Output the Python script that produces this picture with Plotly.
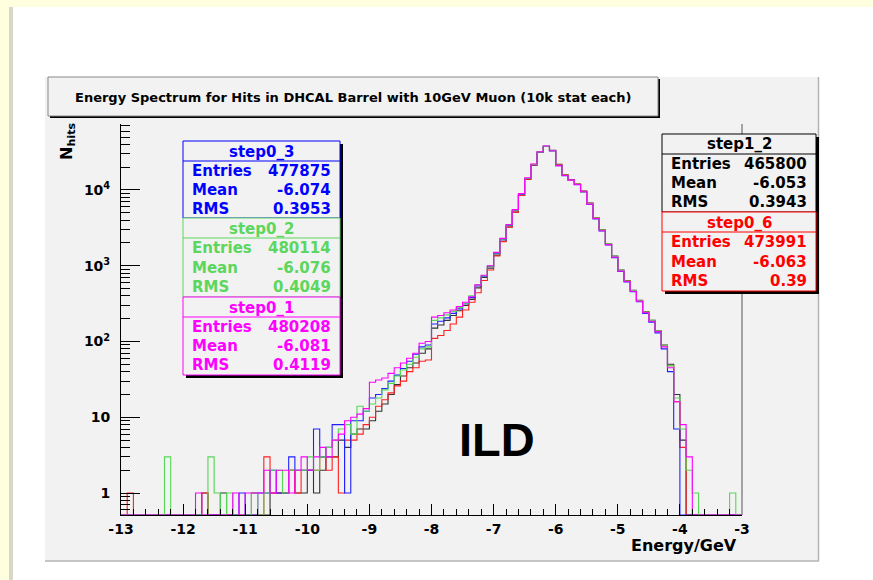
import plotly.graph_objects as go

# ---------------- data ----------------
BIN_MIN, BIN_MAX, N_BINS = -13.0, -3.0, 100

step0_1 = [0,0,0,0,0,0,0,0,0,0,
           0,0,1,0,0,0,0,0,1,0,
           1,1,1,2,1,2,2,1,2,3,
           2,3,4,3,5,6,9,10,11,13,
           29,31,33,38,45,52,60,70,95,100,
           210,220,240,260,290,330,390,560,750,1000,
           1500,2300,3500,5500,9000,14500,22000,32000,38000,33000,
           21000,15500,13500,11800,9500,6500,4200,2900,1900,1300,
           850,620,460,340,240,185,135,85,45,16,
           8,3,0,0,0,0,0,0,0,0]
step0_2 = [0,0,0,0,0,0,0,3,0,0,
           0,0,0,0,3,1,0,1,0,0,
           0,1,0,1,2,2,1,2,2,2,
           3,2,3,4,5,7,8,6,14,12,
           15,18,23,28,35,42,50,62,80,85,
           190,205,225,250,280,320,400,560,740,990,
           1480,2250,3450,5400,8900,14300,21800,31800,37800,32900,
           21200,15600,13400,11900,9400,6600,4250,2950,1950,1330,
           870,630,470,345,245,190,138,88,48,18,
           7,2,1,0,0,0,0,0,1,0]
step0_3 = [0,0,0,0,0,0,0,0,0,0,
           0,0,0,0,0,0,0,0,0,1,
           0,0,1,1,2,1,1,3,2,2,
           2,7,3,4,8,8,1,9,9,12,
           18,20,24,30,36,44,55,68,85,90,
           170,185,205,235,270,315,380,540,730,980,
           1450,2200,3400,5350,8800,14200,21600,31600,37700,32800,
           21000,15400,13400,11700,9450,6450,4150,2880,1880,1280,
           840,610,455,335,235,180,130,80,40,7,
           0,0,0,0,0,0,0,0,0,0]
step1_2 = [0,0,0,0,0,0,0,0,0,0,
           0,0,0,1,0,0,1,0,0,0,
           0,1,0,0,1,1,1,2,1,1,
           2,1,2,3,3,5,4,6,7,7,
           9,12,15,20,27,35,45,52,70,80,
           150,165,190,220,255,300,360,510,700,930,
           1380,2100,3250,5100,8500,13800,21200,31200,37500,33300,
           21800,15900,13700,12000,9700,6700,4300,2980,1960,1340,
           880,640,475,350,248,190,140,90,50,20,
           5,0,0,0,0,0,0,0,0,0]
step0_6 = [0,1,0,0,0,0,0,0,0,0,
           0,0,0,1,0,0,0,0,0,0,
           0,0,0,3,1,1,1,2,1,2,
           2,2,3,2,3,1,5,5,6,8,
           10,14,17,21,26,30,40,45,55,57,
           110,120,140,170,210,260,330,440,640,880,
           1350,2080,3230,5100,8500,13900,21400,31400,37800,33200,
           21500,15800,13600,11950,9600,6650,4280,2960,1950,1320,
           860,630,470,345,245,188,138,88,48,16,
           4,0,0,0,0,0,0,0,0,0]

series_names = ["step1_2", "step0_6", "step0_3", "step0_2", "step0_1"]
series_values = [step1_2, step0_6, step0_3, step0_2, step0_1]
series_colors = ["#333333", "#ff2020", "#2020ff", "#55d855", "#ff00ff"]

stats_entries = {"step0_3": "477875", "step0_2": "480114", "step0_1": "480208",
                 "step1_2": "465800", "step0_6": "473991"}
stats_mean = {"step0_3": "-6.074", "step0_2": "-6.076", "step0_1": "-6.081",
              "step1_2": "-6.053", "step0_6": "-6.063"}
stats_rms = {"step0_3": "0.3953", "step0_2": "0.4049", "step0_1": "0.4119",
             "step1_2": "0.3943", "step0_6": "0.39"}

x_tick_vals = [-13, -12, -11, -10, -9, -8, -7, -6, -5, -4, -3]
x_tick_text = ["-13", "-12", "-11", "-10", "-9", "-8", "-7", "-6", "-5", "-4", "-3"]
y_tick_vals = [1, 10, 100, 1000, 10000]
y_tick_text = ["1", "10", "10<sup>2</sup>", "10<sup>3</sup>", "10<sup>4</sup>"]

title_text = "Energy Spectrum for Hits in DHCAL Barrel with 10GeV Muon (10k stat each)"
x_title = "Energy/GeV"
y_title = "N<sub>hits</sub>"
label_text = "ILD"

# ---------------- layout geometry (pixels) ----------------
W, H = 873, 580
PL, PR, PT, PB = 121, 742, 124, 515
PW, PH = PR - PL, PB - PT
YLOG = [-0.29, 4.871]
FLOOR = 10 ** YLOG[0]

def X(px):
    return (px - PL) / PW

def Y(py):
    return (PB - py) / PH

FONT = "DejaVu Sans"

fig = go.Figure()

width = (BIN_MAX - BIN_MIN) / N_BINS
edges = [BIN_MIN + k * width for k in range(N_BINS + 1)]
for name, vals, col in zip(series_names, series_values, series_colors):
    ys = [v if v > 0 else FLOOR for v in vals] + [vals[-1] if vals[-1] > 0 else FLOOR]
    fig.add_trace(go.Scatter(x=edges, y=ys, mode="lines", line=dict(color=col, width=1.1, shape="hv"),
                             name=name, hoverinfo="skip", showlegend=False, cliponaxis=True))

shapes = []
def rect(x0, y0, x1, y1, fill=None, line=None, lw=1, layer="below"):
    shapes.append(dict(type="rect", xref="paper", yref="paper", x0=X(x0), x1=X(x1), y0=Y(y1), y1=Y(y0),
                       fillcolor=fill if fill else "rgba(0,0,0,0)",
                       line=dict(color=line if line else "rgba(0,0,0,0)", width=lw if line else 0), layer=layer))
def hline(x0, x1, y, col, lw=1, layer="above"):
    shapes.append(dict(type="line", xref="paper", yref="paper", x0=X(x0), x1=X(x1), y0=Y(y), y1=Y(y),
                       line=dict(color=col, width=lw), layer=layer))
def vline(x, y0, y1, col, lw=1, layer="above"):
    shapes.append(dict(type="line", xref="paper", yref="paper", x0=X(x), x1=X(x), y0=Y(y0), y1=Y(y1),
                       line=dict(color=col, width=lw), layer=layer))

# page decorations
rect(0, 0, W, 7, fill="#ffffe0")
rect(0, 0, 9, H, fill="#ffffe0")
rect(9, 7, 13, H, fill="#dad7c8")
# canvas
rect(45, 77, 819, 561, fill="#f2f2f2")
vline(818.5, 77, 561, "#b4b4b4", 1.5, layer="below")
hline(45, 819, 561, "#b4b4b4", 1.5, layer="below")
# frame right side
vline(742, PT, PB, "#555555", 1, layer="below")

# title box
rect(50, 79, 660, 118, fill="#000000", layer="above")
rect(48, 77, 658, 116, fill="#f2f2f2", line="#888888", lw=1, layer="above")

# stat boxes
rect(186, 144, 343, 378, fill="#000000", layer="above")
rect(665, 137, 819, 294, fill="#000000", layer="above")
boxes = [("step0_3", 183, 340, 141, 218, "#0000ff"),
         ("step0_2", 183, 340, 218, 297, "#5cd65c"),
         ("step0_1", 183, 340, 297, 375, "#ff00ff"),
         ("step1_2", 662, 816, 134, 212, "#000000"),
         ("step0_6", 662, 816, 212, 291, "#ff0000")]
annotations = []
for name, x0, x1, y0, y1, col in boxes:
    rect(x0, y0, x1, y1, fill="#f2f2f2", line=col, lw=1, layer="above")
    hh = 20
    hline(x0, x1, y0 + hh, col, 1)
    annotations.append(dict(x=X((x0 + x1) / 2), y=Y(y0 + hh / 2 + 0.5), xref="paper", yref="paper",
                            text="<b>%s</b>" % name, showarrow=False, xanchor="center", yanchor="middle",
                            font=dict(family=FONT, size=15, color=col)))
    rows = [("Entries", stats_entries[name]), ("Mean", stats_mean[name]), ("RMS", stats_rms[name])]
    rh = (y1 - y0 - hh) / 3
    for k, (lab, val) in enumerate(rows):
        yc = y0 + hh + rh * (k + 0.5)
        annotations.append(dict(x=X(x0 + 7), y=Y(yc), xref="paper", yref="paper", text="<b>%s</b>" % lab,
                                showarrow=False, xanchor="left", yanchor="middle",
                                font=dict(family=FONT, size=15, color=col)))
        annotations.append(dict(x=X(x1 - 7), y=Y(yc), xref="paper", yref="paper", text="<b>%s</b>" % val,
                                showarrow=False, xanchor="right", yanchor="middle",
                                font=dict(family=FONT, size=15, color=col)))

annotations.append(dict(x=X(353), y=Y(97), xref="paper", yref="paper", text="<b>%s</b>" % title_text,
                        showarrow=False, xanchor="center", yanchor="middle",
                        font=dict(family=FONT, size=13, color="#000000")))
annotations.append(dict(x=X(739), y=Y(545), xref="paper", yref="paper", text="<b>%s</b>" % x_title,
                        showarrow=False, xanchor="right", yanchor="middle",
                        font=dict(family=FONT, size=16, color="#000000")))
annotations.append(dict(x=X(67), y=Y(141), xref="paper", yref="paper", text="<b>%s</b>" % y_title,
                        showarrow=False, xanchor="center", yanchor="middle", textangle=-90,
                        font=dict(family=FONT, size=16, color="#000000")))
annotations.append(dict(x=X(497), y=Y(439), xref="paper", yref="paper", text="<b>%s</b>" % label_text,
                        showarrow=False, xanchor="center", yanchor="middle",
                        font=dict(family="Liberation Sans", size=47, color="#000000")))

minor_y = [k * 10 ** n for n in range(-1, 5) for k in range(2, 10)]

fig.update_layout(
    width=W, height=H, autosize=False,
    margin=dict(l=PL, r=W - PR, t=PT, b=H - PB, pad=0),
    paper_bgcolor="#ffffff", plot_bgcolor="rgba(0,0,0,0)",
    shapes=shapes, annotations=annotations, showlegend=False, hovermode=False,
    xaxis=dict(range=[BIN_MIN, BIN_MAX], tickmode="array", tickvals=x_tick_vals, ticktext=x_tick_text,
               ticks="inside", ticklen=11, tickcolor="#000000", tickwidth=1,
               minor=dict(ticks="inside", ticklen=6, dtick=0.2, tick0=-13, tickcolor="#000000", showgrid=False),
               showline=True, linecolor="#000000", linewidth=1, showgrid=False, zeroline=False,
               tickfont=dict(family=FONT, size=14, color="#000000", weight="bold"), ticklabelstandoff=1),
    yaxis=dict(type="log", range=YLOG, tickmode="array", tickvals=y_tick_vals, ticktext=y_tick_text,
               ticks="inside", ticklen=19, tickcolor="#000000", tickwidth=1,
               minor=dict(ticks="inside", ticklen=9, tickmode="array", tickvals=minor_y, tickcolor="#000000", showgrid=False),
               showline=True, linecolor="#000000", linewidth=1, showgrid=False, zeroline=False,
               tickfont=dict(family=FONT, size=14, color="#000000", weight="bold"), ticklabelstandoff=7),
)

fig.write_html("out.html", config={"displayModeBar": False},
               post_script="document.body.style.margin='0px';document.body.style.overflow='hidden';")
